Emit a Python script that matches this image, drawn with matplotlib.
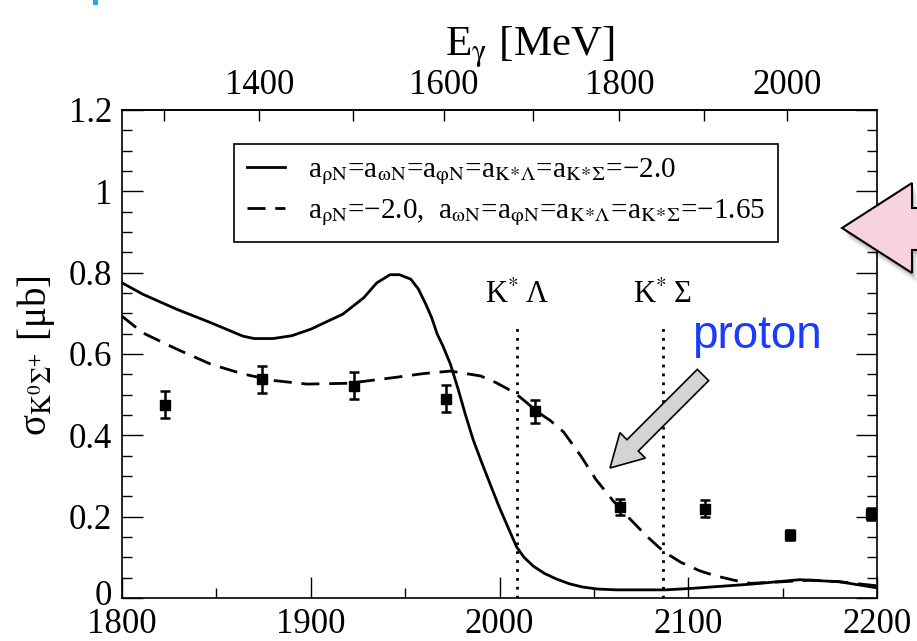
import numpy as np
import matplotlib
matplotlib.use("Agg")
import matplotlib.pyplot as plt
import matplotlib.transforms as mtransforms
from matplotlib.patches import Polygon, FancyArrow, Rectangle
from matplotlib.lines import Line2D

plt.rcParams['font.family'] = ['Liberation Serif', 'DejaVu Serif']
plt.rcParams['mathtext.fontset'] = 'stix'

# solid curve: all a = -2.0
w_solid = [1800, 1811, 1829, 1847, 1864, 1870, 1880, 1890, 1900, 1917, 1928, 1935,
           1942, 1947, 1953, 1957, 1961, 1964, 1967, 1970, 1974, 1978, 1982, 1986,
           1990, 1997, 2000, 2006, 2009, 2013, 2018, 2024, 2030, 2037, 2044, 2052,
           2062, 2088, 2103, 2133, 2159, 2180, 2200]
s_solid = [0.775, 0.747, 0.710, 0.677, 0.644, 0.638, 0.638, 0.645, 0.661, 0.698, 0.738, 0.775,
           0.795, 0.795, 0.784, 0.760, 0.722, 0.690, 0.649, 0.620, 0.575, 0.515, 0.450, 0.390,
           0.340, 0.257, 0.222, 0.158, 0.126, 0.100, 0.078, 0.060, 0.047, 0.035, 0.027, 0.022,
           0.020, 0.020, 0.024, 0.034, 0.045, 0.040, 0.025]

# dashed curve: a_rhoN = -2.0, others -1.65
w_dash = [1800, 1811, 1829, 1847, 1864, 1880, 1898, 1920, 1944, 1960, 1974, 1990,
          1998, 2004, 2009, 2014, 2020, 2027, 2034, 2043, 2051, 2060, 2069, 2078,
          2087, 2096, 2106, 2114, 2124, 2133, 2150, 2165, 2180, 2200]
s_dash = [0.693, 0.652, 0.612, 0.575, 0.551, 0.535, 0.526, 0.528, 0.542, 0.552, 0.558, 0.546,
          0.530, 0.515, 0.501, 0.482, 0.458, 0.436, 0.408, 0.350, 0.292, 0.240, 0.195, 0.152,
          0.114, 0.088, 0.067, 0.055, 0.044, 0.036, 0.040, 0.044, 0.040, 0.030]

# data points
w_data = [1823, 1874, 1923, 1971.5, 2019, 2064, 2109, 2154, 2197]
s_data = [0.475, 0.538, 0.522, 0.490, 0.459, 0.224, 0.220, 0.154, 0.207]
e_data = [0.033, 0.033, 0.033, 0.033, 0.029, 0.020, 0.020, 0.012, 0.015]

thresholds = [2009.5, 2086.5]
thr_labels = ['K$^{*}$\u2009Λ', 'K$^{*}$\u2009Σ']

leg_labels = ['a$_{\\mathrm{ρN}}$=a$_{\\mathrm{ωN}}$=a$_{\\mathrm{φN}}$=a$_{\\mathrm{K\\!*\\!Λ}}$=a$_{\\mathrm{K\\!*\\!Σ}}$=\u22122.0',
              'a$_{\\mathrm{ρN}}$=\u22122.0,  a$_{\\mathrm{ωN}}$=a$_{\\mathrm{φN}}$=a$_{\\mathrm{K\\!*\\!Λ}}$=a$_{\\mathrm{K\\!*\\!Σ}}$=\u22121.65']

M = 938.27
def w2e(w):
    w = np.asarray(w, dtype=float)
    return (w**2 - M**2) / (2*M)
def e2w(e):
    e = np.asarray(e, dtype=float)
    return np.sqrt(np.maximum(M**2 + 2*M*e, 0))

W, H = 917, 641
def px(x, y):
    return (x/W, 1 - y/H)

fig = plt.figure(figsize=(9.17, 6.41), dpi=100)
ax = fig.add_axes([122/W, 43/H, 755/W, 488/H])

ax.plot(w_solid, s_solid, color='k', lw=2)
ax.plot(w_dash, s_dash, color='k', lw=2, dashes=(6.5, 3.5))
ax.errorbar(w_data, s_data, yerr=e_data, fmt='s', color='k', ms=7,
            capsize=3.5, elinewidth=1.8, capthick=1.8, zorder=5)
for w, lab in zip(thresholds, thr_labels):
    ax.plot([w, w], [0, 0.677], color='k', lw=2, dashes=(1, 2.2))
    ax.text(w, 0.726, lab, ha='center', va='baseline', fontsize=22)

ax.set_xlim(1800, 2200)
ax.set_ylim(0, 1.2)
ax.set_xticks(np.arange(1800, 2201, 100))
ax.set_xticks(np.arange(1850, 2200, 100), minor=True)
ax.set_yticks(np.arange(0, 1.21, 0.2))
ax.set_yticklabels(['0', '0.2', '0.4', '0.6', '0.8', '1', '1.2'])
ax.set_yticks(np.arange(0, 1.21, 0.05), minor=True)
ax.tick_params(which='both', direction='in', top=False, right=True, labelsize=25, pad=7)
ax.tick_params(which='major', length=15, width=1)
ax.tick_params(which='minor', length=7, width=1)
for sp in ax.spines.values():
    sp.set_linewidth(1.2)

# lift the "0" a little so it sits just above the "1800"
zero_lbl = ax.get_yticklabels()[0]
zero_lbl.set_transform(zero_lbl.get_transform() +
                       mtransforms.ScaledTranslation(0, 4/72, fig.dpi_scale_trans))

sec = ax.secondary_xaxis('top', functions=(w2e, e2w))
sec.set_xticks([1400, 1600, 1800, 2000])
sec.set_xticks([1300, 1500, 1700, 1900], minor=True)
sec.tick_params(which='both', direction='in', length=8, width=1, labelsize=25, pad=6)
sec.spines['top'].set_linewidth(1.2)

fig.text(530/W, 1 - 56/H, 'E$_{\\mathrm{γ}}$ [MeV]', ha='center', va='baseline', fontsize=31)
fig.text(36/W, 1 - 356/H, 'σ$_{\\mathrm{K}^{0}\\mathrm{Σ}^{+}}$ [μb]', rotation=90,
         ha='center', va='center', fontsize=28)

handles = [Line2D([], [], color='k', lw=2), Line2D([], [], color='k', lw=2, dashes=(6.5, 3.5))]
leg = ax.legend(handles, leg_labels, loc='upper left', bbox_to_anchor=(0.148, 0.931),
                fontsize=21, frameon=True, fancybox=False, edgecolor='k', framealpha=1,
                handlelength=1.3, handletextpad=0.8, borderpad=0.45, labelspacing=0.35,
                borderaxespad=0)
leg.get_frame().set_linewidth(1.2)

# annotations
fig.text(692/W, 1 - 348/H, 'proton', color='#1a3cff', fontsize=33,
         family='Liberation Sans', va='baseline')
arr = FancyArrow(7.03, 2.66, -0.93, -0.93, width=0.16, head_width=0.36, head_length=0.32,
                 length_includes_head=True, transform=fig.dpi_scale_trans,
                 fc='#d4d4d4', ec='k', lw=1.2)
fig.add_artist(arr)

pink = [(842, 228), (912, 183), (912, 208), (940, 208), (940, 250), (912, 250), (912, 273)]
for k, a in [(10, 0.06), (7, 0.09), (4, 0.12)]:
    sh = Polygon([px(x + k*0.5, y + k) for x, y in pink], closed=True, transform=fig.transFigure,
                 fc='k', ec='none', alpha=a)
    fig.add_artist(sh)
fig.add_artist(Polygon([px(x, y) for x, y in pink], closed=True, transform=fig.transFigure,
                       fc='#f8d3de', ec='k', lw=1.5))

fig.add_artist(Rectangle(px(93, 5), 5/W, 5/H, transform=fig.transFigure, fc='#2aa6e0', ec='none'))

fig.savefig('out.png', dpi=100)
